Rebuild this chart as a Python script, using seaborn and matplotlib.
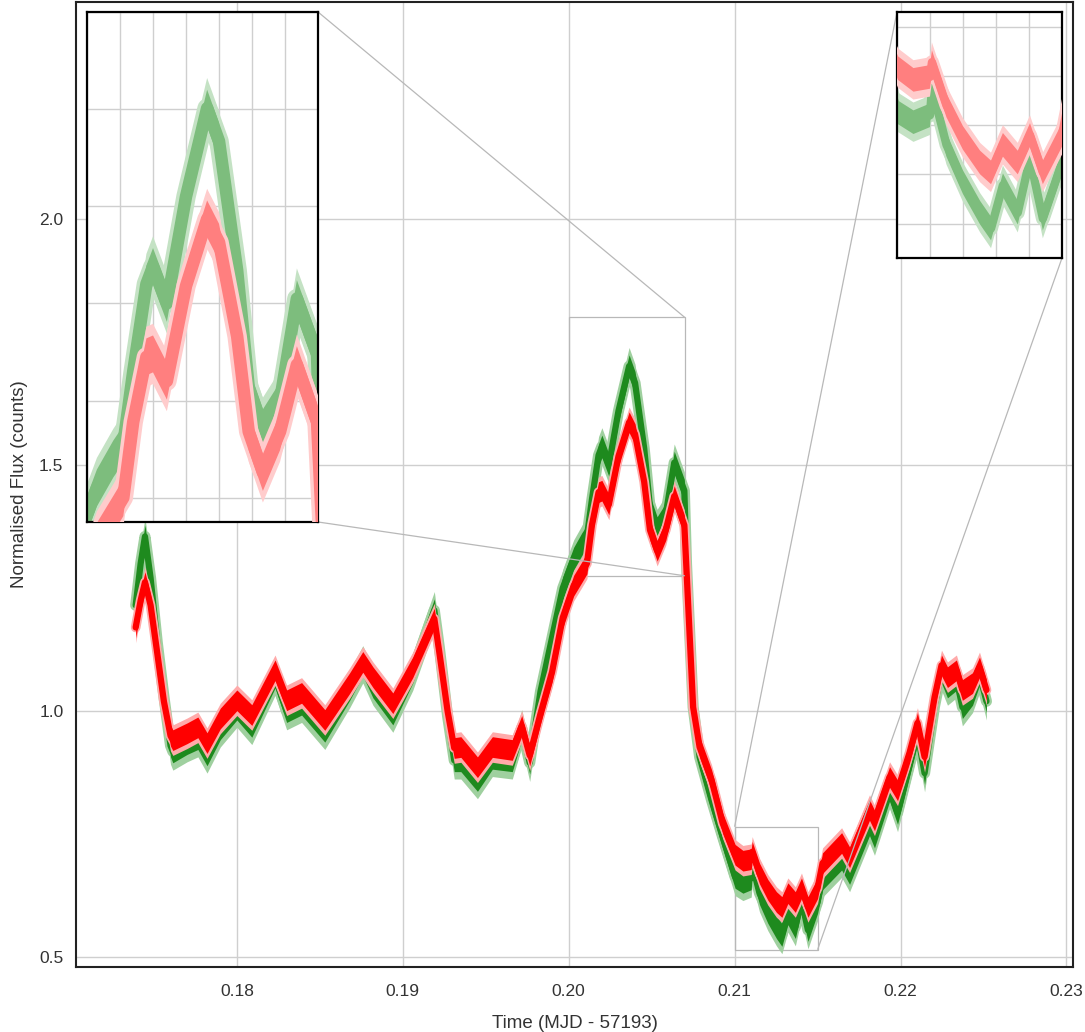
import numpy as np
import matplotlib
matplotlib.use("Agg")
import matplotlib.pyplot as plt
import seaborn as sns
from matplotlib.ticker import MultipleLocator
from mpl_toolkits.axes_grid1.inset_locator import mark_inset

# ---- data (time in MJD - 57193) ----
time = [0.1739, 0.1742, 0.17446, 0.1748, 0.1752, 0.1756, 0.1760, 0.17614,
        0.1770, 0.17765, 0.1782, 0.1790, 0.1800, 0.1809, 0.1823, 0.1830,
        0.1839, 0.1853, 0.1868, 0.18759, 0.1882, 0.1894, 0.1906, 0.1919,
        0.1922, 0.1927, 0.1931, 0.1935, 0.1945, 0.1954, 0.1966, 0.19717,
        0.19765, 0.1983, 0.1990, 0.19964, 0.2003, 0.2008, 0.2011, 0.2014,
        0.2018, 0.2020, 0.20242, 0.2030, 0.20364, 0.2040, 0.20455, 0.2049,
        0.20533, 0.20585, 0.20636, 0.20697, 0.2071, 0.2075, 0.20789, 0.20861,
        0.20928, 0.21003, 0.2105, 0.2110, 0.21106, 0.2115, 0.2120, 0.21252,
        0.21285, 0.21321, 0.21366, 0.21403, 0.21442, 0.2150, 0.2153, 0.21645,
        0.21693, 0.21813, 0.21843, 0.21934, 0.21982, 0.22054, 0.22102, 0.22145,
        0.22205, 0.22247, 0.22283, 0.22337, 0.22373, 0.22434, 0.22476, 0.22518]

flux_red = [1.170, 1.225, 1.262, 1.215, 1.118, 1.020, 0.950, 0.941,
            0.955, 0.967, 0.935, 0.985, 1.022, 0.992, 1.083, 1.022,
            1.037, 0.982, 1.057, 1.100, 1.069, 1.016, 1.089, 1.188,
            1.120, 1.000, 0.925, 0.927, 0.886, 0.927, 0.921, 0.970,
            0.910, 0.995, 1.080, 1.190, 1.255, 1.283, 1.300, 1.378,
            1.445, 1.448, 1.420, 1.518, 1.587, 1.563, 1.466, 1.368,
            1.326, 1.368, 1.437, 1.378, 1.287, 1.008, 0.927, 0.860,
            0.772, 0.708, 0.696, 0.699, 0.714, 0.670, 0.637, 0.612,
            0.602, 0.630, 0.612, 0.640, 0.602, 0.640, 0.691, 0.732,
            0.703, 0.799, 0.778, 0.866, 0.839, 0.915, 0.976, 0.907,
            1.028, 1.093, 1.069, 1.083, 1.043, 1.057, 1.089, 1.043]

flux_green = [1.215, 1.300, 1.355, 1.270, 1.140, 1.030, 0.930, 0.918,
              0.935, 0.945, 0.912, 0.965, 1.005, 0.970, 1.070, 1.000,
              1.015, 0.960, 1.045, 1.095, 1.050, 0.995, 1.080, 1.205,
              1.130, 0.990, 0.900, 0.900, 0.860, 0.905, 0.900, 0.965,
              0.895, 1.040, 1.150, 1.250, 1.310, 1.340, 1.355, 1.430,
              1.520, 1.538, 1.500, 1.610, 1.701, 1.667, 1.534, 1.414,
              1.372, 1.400, 1.505, 1.448, 1.300, 1.008, 0.907, 0.819,
              0.744, 0.663, 0.653, 0.660, 0.688, 0.630, 0.592, 0.561,
              0.545, 0.589, 0.561, 0.616, 0.555, 0.612, 0.660, 0.700,
              0.671, 0.770, 0.745, 0.840, 0.793, 0.890, 0.955, 0.874,
              1.010, 1.080, 1.050, 1.065, 1.008, 1.035, 1.075, 1.020]

x_ticks = [0.18, 0.19, 0.20, 0.21, 0.22, 0.23]
x_tick_labels = ["0.18", "0.19", "0.20", "0.21", "0.22", "0.23"]
y_ticks = [0.5, 1.0, 1.5, 2.0]
y_tick_labels = ["0.5", "1.0", "1.5", "2.0"]

# ---- style ----
sns.set_theme(style="whitegrid")
plt.rcParams['font.family'] = ['Liberation Sans', 'DejaVu Sans']
plt.rcParams['grid.color'] = '#cfcfcf'
plt.rcParams['grid.linewidth'] = 1.0

fig = plt.figure(figsize=(10.85, 10.32), dpi=100)
ax = fig.add_axes([0.070, 0.063, 0.919, 0.935])

t = np.asarray(time)
red = np.asarray(flux_red)
green = np.asarray(flux_green)


def draw_band(a, y, colors, halfwidths, lws, z):
    for c, hw, lw in zip(colors, halfwidths, lws):
        a.fill_between(t, y - hw, y + hw, color=c, linewidth=0, zorder=z)
        sns.lineplot(x=t, y=y, ax=a, color=c, linewidth=lw, estimator=None,
                     sort=False, zorder=z, solid_joinstyle='round',
                     solid_capstyle='round')


# main plot
draw_band(ax, green, ['#9fd09f', '#1e8a1e'], [0.038, 0.023], [8, 4.5], 2)
draw_band(ax, red, ['#ffaaaa', '#ff0000'], [0.031, 0.021], [7, 4.5], 3)

ax.set_xlim(0.1703, 0.2304)
ax.set_ylim(0.480, 2.441)
ax.set_xticks(x_ticks)
ax.set_xticklabels(x_tick_labels)
ax.set_yticks(y_ticks)
ax.set_yticklabels(y_tick_labels)
ax.tick_params(axis='x', labelsize=12.5, pad=12, length=0, colors='#333333')
ax.tick_params(axis='y', labelsize=12.5, pad=9, length=0, colors='#333333')
ax.set_xlabel("Time (MJD - 57193)", fontsize=13.5, labelpad=12, color='#333333')
ax.set_ylabel("Normalised Flux (counts)", fontsize=13.5, labelpad=8, color='#333333')
for s in ax.spines.values():
    s.set_edgecolor('#222222')
    s.set_linewidth(1.5)

# inset 1: main peak
axin1 = fig.add_axes([0.0802, 0.4942, 0.2129, 0.4942])
draw_band(axin1, green, ['#c4e2c4', '#7dbd7d'], [0.031, 0.019], [14, 9], 2)
draw_band(axin1, red, ['#ffcccc', '#ff7f7f'], [0.031, 0.019], [14, 9], 3)
axin1.set_xlim(0.200, 0.207)
axin1.set_ylim(1.275, 1.80)

# inset 2: minimum
axin2 = fig.add_axes([0.8267, 0.750, 0.1521, 0.2384])
draw_band(axin2, green, ['#c4e2c4', '#7dbd7d'], [0.020, 0.012], [10, 6], 2)
draw_band(axin2, red, ['#ffcccc', '#ff7f7f'], [0.020, 0.012], [10, 6], 3)
axin2.set_xlim(0.210, 0.215)
axin2.set_ylim(0.515, 0.765)

for a, ystep in [(axin1, 0.1), (axin2, 0.05)]:
    a.xaxis.set_major_locator(MultipleLocator(0.001))
    a.yaxis.set_major_locator(MultipleLocator(ystep))
    a.tick_params(labelbottom=False, labelleft=False, length=0)
    a.set_xlabel("")
    a.set_ylabel("")
    a.grid(True, color='#cfcfcf', linewidth=1.0)
    a.set_axisbelow(True)
    for s in a.spines.values():
        s.set_edgecolor('black')
        s.set_linewidth(1.6)

mark_inset(ax, axin1, loc1=1, loc2=4, fc="none", ec="0.72", lw=0.9)
mark_inset(ax, axin2, loc1=2, loc2=4, fc="none", ec="0.72", lw=0.9)

fig.savefig("out.png", dpi=100)
